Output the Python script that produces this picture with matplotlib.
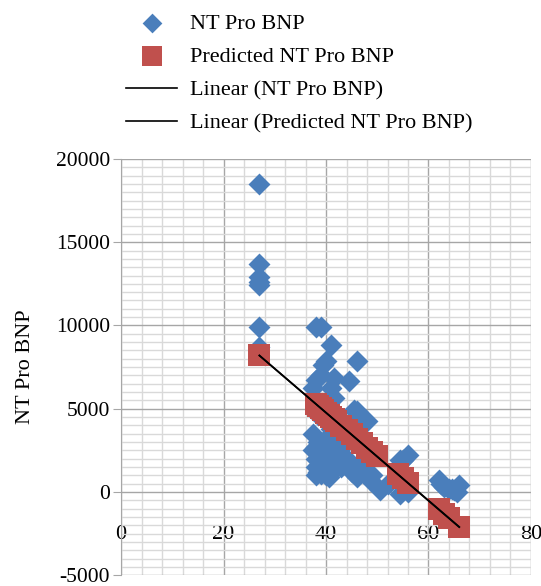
import numpy as np
import matplotlib.pyplot as plt
from matplotlib.ticker import MultipleLocator

plt.rcParams['font.family'] = ['Liberation Serif', 'DejaVu Serif']
plt.rcParams['axes.unicode_minus'] = False

ef = [27, 27, 27, 27, 27, 27, 27,
      38, 39, 41, 46, 39.5, 40, 39, 38, 44.5, 41.5, 41, 37.5, 41.5,
      46, 47, 45.5, 48, 37.5, 38, 39.5, 39, 43, 46, 48.5, 50.5,
      55, 56, 54.5, 62, 63, 66, 65.5, 54.5, 56, 40, 42, 44, 45, 47,
      49, 52, 42, 40, 38.5, 44, 41, 43, 64, 62.5,
      37.5, 38, 38, 38.5, 38.5, 39, 39, 39.5, 39.5, 40, 40, 40.5, 40.5,
      41, 41, 41.5, 38, 39, 40.5, 64.5, 65]
bnp = [18500, 13700, 12900, 12600, 12400, 9900, 8700,
       9900, 9900, 8800, 7850, 7650, 7850, 7050, 6750, 6650, 6850, 6250, 6250, 5650,
       4850, 4300, 4900, 4250, 3500, 2700, 2100, 1100, 1500, 900, 700, 100,
       1900, 2200, 1900, 700, 300, 400, 0, -100, 0, 3200, 2500, 2000, 1200, 1600,
       1000, 500, 4000, 4500, 4600, 3000, 3800, 1900, 200, 500,
       2500, 2000, 1500, 3000, 1200, 2500, 1800, 1500, 3000, 2000, 1000, 2500, 1600,
       2000, 3000, 1300, 1000, 1400, 900, 150, 100]

# Predicted NT Pro BNP
ef_pred = [27, 38, 38.5, 39, 39.5, 40, 40.5, 41, 41.5, 42, 43, 44, 45, 46,
           47, 48, 49, 50, 54, 55, 56, 62, 63, 64, 66]
bnp_pred = [8200, 5300, 5160, 5030, 4900, 4770, 4640, 4500, 4370, 4240, 3980,
            3710, 3450, 3180, 2920, 2660, 2390, 2130, 1070, 810, 540, -1040,
            -1300, -1570, -2100]

blue = '#4a7ebb'
red = '#c0504d'

fig = plt.figure(figsize=(5.41, 5.86), dpi=100)
ax = fig.add_axes([0.2237, 0.0185, 0.7578, 0.7102])

ax.set_xlim(0, 80)
ax.set_ylim(-5000, 20000)
ax.xaxis.set_major_locator(MultipleLocator(20))
ax.xaxis.set_minor_locator(MultipleLocator(4))
ax.yaxis.set_major_locator(MultipleLocator(5000))
ax.yaxis.set_minor_locator(MultipleLocator(500))
ax.grid(which='major', color='#a6a6a6', lw=1.0)
ax.grid(which='minor', color='#d9d9d9', lw=1.0)
ax.set_axisbelow(True)

h1 = ax.scatter(ef, bnp, marker='D', s=125, color=blue, lw=0, zorder=3)
h2 = ax.scatter(ef_pred, bnp_pred, marker='s', s=270, color=red, lw=0, zorder=4)

# linear trend lines
c1 = np.polyfit(ef, bnp, 1)
c2 = np.polyfit(ef_pred, bnp_pred, 1)
xs = np.array([min(ef_pred), max(ef_pred)])
l1, = ax.plot(xs, np.polyval(c1, xs), color='black', lw=1.2, zorder=5)
l2, = ax.plot(xs, np.polyval(c2, xs), color='black', lw=1.2, zorder=5)

for s in ['top', 'right']:
    ax.spines[s].set_visible(False)
ax.spines['left'].set_color('#a6a6a6')
ax.spines['bottom'].set_position(('data', 0))
ax.spines['bottom'].set_visible(False)
ax.tick_params(axis='x', which='both', length=0, pad=24, labelsize=16)
ax.tick_params(axis='y', which='major', length=6, color='#a6a6a6', labelsize=15.5, pad=2)
ax.tick_params(axis='y', which='minor', length=0)
ax.set_ylabel('NT Pro BNP', fontsize=16, labelpad=15)

fig.legend([h1, h2, l1, l2],
           ['NT Pro BNP', 'Predicted NT Pro BNP', 'Linear (NT Pro BNP)',
            'Linear (Predicted NT Pro BNP)'],
           loc='upper left', bbox_to_anchor=(0.196, 1.012), frameon=False,
           fontsize=16, handlelength=2.3, handletextpad=0.6, labelspacing=0.58,
           markerscale=0.9)

fig.savefig('out.png', dpi=100)
